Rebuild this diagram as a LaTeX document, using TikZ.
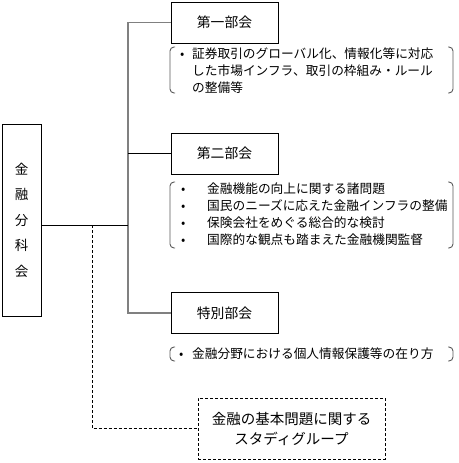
\documentclass[tikz,border=0pt]{standalone}
\usepackage{fontspec}
\setmainfont{Noto Sans CJK JP}
\newcommand{\mybrk}[4]{%
  \draw[brk] (#1+6,#3) -- (#1+1,#3) -- (#1+1,#4) -- (#1+6,#4);
  \draw[brk] (#2-6,#3) -- (#2-1,#3) -- (#2-1,#4) -- (#2-6,#4);}
\begin{document}
\begin{tikzpicture}[x=1bp,y=-1bp,
  box/.style={draw=black,line width=0.8bp,minimum width=107bp,minimum height=41bp,inner sep=0pt,font=\fontsize{13.8bp}{15bp}\selectfont},
  lst/.style={inner sep=0pt,align=left,anchor=west},
  brk/.style={draw=gray!70!black,line width=0.9bp,rounded corners=4bp},
  trunkline/.style={draw=gray,line width=1.8bp},
  thin/.style={draw=black,line width=0.8bp},
  dsh/.style={draw=black,line width=0.8bp,dash pattern=on 3bp off 2bp}]
\useasboundingbox (0,0) rectangle (459,463);
% main box
\node[draw,line width=0.8bp,minimum width=39bp,minimum height=192bp,inner sep=0pt,align=center,
  font=\fontsize{13.5bp}{25.5bp}\selectfont] (main) at (21.5,220) {金\\融\\分\\科\\会};
% subcommittees
\node[box] (b1) at (224.5,22.5) {第一部会};
\node[box] (b2) at (224.5,153.5) {第二部会};
\node[box] (b3) at (224.5,313) {特別部会};
\node[box,dsh,minimum width=187bp,minimum height=61bp,align=center,font=\fontsize{14.5bp}{20bp}\selectfont] (sg) at (291.5,428.5) {金融の基本問題に関する\\スタディグループ};
% connectors
\coordinate (t) at (128,0);
\coordinate (mj) at ([yshift=-5bp]main.east);
\coordinate (dj) at (92,225);
\draw[trunkline] (b1.west) -- (b1.west -| t) -- (b3.west -| t) -- (b3.west);
\draw[thin] (b2.west) -- (b2.west -| t);
\draw[thin] (mj) -- (mj -| t);
\draw[dsh] (dj) |- (sg.west);
% bracket lists
\mybrk{169}{454}{47}{93}
\mybrk{169}{454}{182}{248}
\mybrk{169}{454}{347}{361}
\node[lst,font=\fontsize{12.7bp}{16.8bp}\selectfont] (l1) at (180,70.5)
 {\makebox[12bp][l]{•}証券取引のグローバル化、情報化等に対応\\\hspace*{12bp}した市場インフラ、取引の枠組み・ルール\\\hspace*{12bp}の整備等};
\node[lst,font=\fontsize{12.7bp}{17bp}\selectfont] (l2) at (181,214)
 {\makebox[26bp][l]{•}金融機能の向上に関する諸問題\\\makebox[26bp][l]{•}国民のニーズに応えた金融インフラの整備\\\makebox[26bp][l]{•}保険会社をめぐる総合的な検討\\\makebox[26bp][l]{•}国際的な観点も踏まえた金融機関監督};
\node[lst,font=\fontsize{12.7bp}{17bp}\selectfont] (l3) at (179,354)
 {\makebox[13bp][l]{•}金融分野における個人情報保護等の在り方};
\end{tikzpicture}
\end{document}
